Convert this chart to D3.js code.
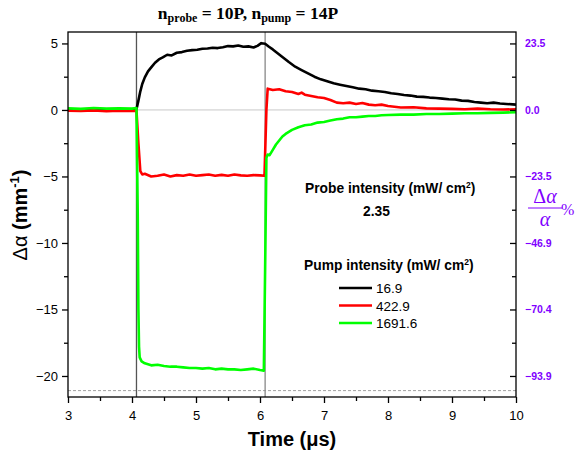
<!DOCTYPE html>
<html><head><meta charset="utf-8">
<script src="https://cdn.jsdelivr.net/npm/d3@7"></script>
<style>
body{margin:0;background:#fff;}
svg{display:block;font-family:"Liberation Sans",Arial,sans-serif;}
</style></head>
<body><svg id="chart" width="575" height="453"></svg>
<script>
// ---------- data ----------
const blackT = [3.0,3.2,3.4,3.6,3.8,4.0,4.07,4.1,4.13,4.16,4.2,4.25,4.3,4.36,4.42,4.48,4.55,4.62,4.7,4.78,4.86,4.94,5.02,5.1,5.18,5.26,5.34,5.42,5.5,5.58,5.66,5.74,5.82,5.9,5.96,6.02,6.08,6.14,6.2,6.28,6.36,6.45,6.55,6.65,6.75,6.85,6.95,7.05,7.15,7.25,7.35,7.45,7.55,7.65,7.75,7.85,7.95,8.05,8.15,8.25,8.35,8.45,8.55,8.65,8.75,8.85,8.95,9.05,9.15,9.25,9.35,9.45,9.55,9.65,9.75,9.85,9.95,10.0];
const blackV = [0.02,-0.02,0.03,0.0,0.02,0.0,0.05,0.7,1.4,1.95,2.45,2.9,3.2,3.55,3.8,3.95,4.15,4.1,4.3,4.35,4.45,4.5,4.52,4.6,4.62,4.68,4.65,4.72,4.8,4.78,4.85,4.75,4.78,4.7,4.82,5.02,4.98,4.75,4.55,4.25,3.95,3.6,3.25,3.0,2.75,2.5,2.3,2.15,2.0,1.9,1.8,1.7,1.6,1.55,1.45,1.4,1.35,1.25,1.2,1.12,1.08,1.0,0.98,0.93,0.9,0.85,0.8,0.78,0.7,0.68,0.6,0.55,0.5,0.55,0.48,0.45,0.42,0.4];

const redT = [3.0,3.2,3.4,3.6,3.8,4.0,4.07,4.1,4.13,4.16,4.2,4.3,4.4,4.5,4.6,4.7,4.8,4.9,5.0,5.1,5.2,5.3,5.4,5.5,5.6,5.7,5.8,5.9,6.0,6.07,6.1,6.12,6.2,6.3,6.4,6.5,6.6,6.65,6.7,6.8,6.9,7.0,7.1,7.2,7.3,7.4,7.5,7.6,7.7,7.8,7.9,8.0,8.2,8.4,8.6,8.8,9.0,9.2,9.4,9.6,9.8,10.0];
const redV = [-0.05,-0.08,-0.03,-0.1,-0.05,-0.08,-0.05,-2.5,-4.6,-4.85,-4.8,-5.0,-4.95,-4.85,-5.0,-4.9,-4.95,-4.85,-4.95,-4.9,-4.85,-4.95,-4.88,-4.95,-4.85,-4.92,-4.95,-4.9,-4.92,-4.95,0.0,1.6,1.5,1.55,1.4,1.35,1.2,1.3,1.15,1.05,0.95,0.9,0.75,0.55,0.5,0.55,0.45,0.52,0.4,0.35,0.4,0.3,0.18,0.2,0.12,0.1,0.08,0.05,0.1,0.05,0.03,0.05];

const greenT = [3.0,3.2,3.4,3.6,3.8,4.0,4.07,4.09,4.1,4.11,4.12,4.15,4.2,4.3,4.4,4.5,4.6,4.7,4.8,4.9,5.0,5.1,5.2,5.3,5.4,5.5,5.6,5.7,5.8,5.9,6.0,6.06,6.08,6.1,6.12,6.15,6.2,6.25,6.3,6.35,6.4,6.5,6.6,6.7,6.8,6.9,7.0,7.1,7.2,7.3,7.4,7.5,7.6,7.7,7.8,7.9,8.0,8.2,8.4,8.6,8.8,9.0,9.2,9.4,9.6,9.8,10.0];
const greenV = [0.12,0.08,0.15,0.1,0.12,0.1,0.15,-8,-15,-17.8,-18.6,-18.9,-19.05,-19.2,-19.15,-19.25,-19.3,-19.3,-19.35,-19.4,-19.4,-19.45,-19.4,-19.5,-19.45,-19.5,-19.5,-19.55,-19.5,-19.45,-19.55,-19.6,-12,-3.6,-3.35,-3.4,-3.0,-2.6,-2.3,-2.0,-1.8,-1.5,-1.3,-1.15,-1.1,-0.95,-0.9,-0.8,-0.7,-0.65,-0.55,-0.55,-0.5,-0.45,-0.45,-0.4,-0.38,-0.35,-0.35,-0.3,-0.3,-0.28,-0.25,-0.25,-0.22,-0.2,-0.17];

const seriesNames = ["16.9","422.9","1691.6"];
const seriesColors = ["#000000","#ff0000","#00ff00"];
const xTicks = [3,4,5,6,7,8,9,10];
const xMinor = [3.5,4.5,5.5,6.5,7.5,8.5,9.5];
const yTicks = [5,0,-5,-10,-15,-20];
const yMinor = [2.5,-2.5,-7.5,-12.5,-17.5];
const rightTickLabels = ["23.5","0.0","\u221223.5","\u221246.9","\u221270.4","\u221293.9"];
const pulseMarks = [4.07,6.08];
const floorLine = -21.1;
const probeIntensity = "2.35";

// ---------- layout ----------
const svg = d3.select("#chart");
const L = 68, R = 516, T = 32, B = 397;
const x = d3.scaleLinear().domain([3,10]).range([L,R]);
const y = d3.scaleLinear().domain([5.86,-21.58]).range([T,B]);
const purple = "#7f00ff";

svg.append("clipPath").attr("id","clip").append("rect")
  .attr("x",L).attr("y",T).attr("width",R-L).attr("height",B-T);

const plot = svg.append("g").attr("clip-path","url(#clip)");
plot.append("line").attr("x1",L).attr("x2",R).attr("y1",y(0)).attr("y2",y(0))
  .attr("stroke","#c8c8c8").attr("stroke-width",1);
plot.append("line").attr("x1",L).attr("x2",R).attr("y1",y(floorLine)).attr("y2",y(floorLine))
  .attr("stroke","#888").attr("stroke-width",0.8).attr("stroke-dasharray","3,2");
pulseMarks.forEach((p,i)=>{
  plot.append("line").attr("x1",x(p)).attr("x2",x(p)).attr("y1",T).attr("y2",B)
    .attr("stroke", i===0 ? "#555" : "#888").attr("stroke-width",1.3);
});

const series = [
  {t:blackT, v:blackV},
  {t:redT, v:redV},
  {t:greenT, v:greenV}
];
const line = d3.line().x(d=>x(d[0])).y(d=>y(d[1])).curve(d3.curveLinear);
series.forEach((s,i)=>{
  const pts = s.t.map((t,j)=>[t,s.v[j]]);
  plot.append("path").attr("d",line(pts)).attr("fill","none")
    .attr("stroke",seriesColors[i]).attr("stroke-width",2.6)
    .attr("stroke-linejoin","round");
});

svg.append("rect").attr("x",L).attr("y",T).attr("width",R-L).attr("height",B-T)
  .attr("fill","none").attr("stroke","#000").attr("stroke-width",1.3);

// x axis
const gx = svg.append("g").attr("transform",`translate(0,${B})`)
  .call(d3.axisBottom(x).tickValues(xTicks).tickFormat(d3.format("d")).tickSize(6).tickSizeOuter(0).tickPadding(8));
gx.select(".domain").remove();
gx.selectAll("text").attr("font-size","13px").attr("fill","#000").attr("font-family","Liberation Sans, Arial, sans-serif");
gx.selectAll(".tick line").attr("stroke-width",1.3);
svg.append("g").attr("transform",`translate(0,${B})`)
  .call(d3.axisBottom(x).tickValues(xMinor).tickFormat("").tickSize(4).tickSizeOuter(0))
  .call(g=>g.select(".domain").remove())
  .selectAll(".tick line").attr("stroke-width",1.3);

// left axis
const gy = svg.append("g").attr("transform",`translate(${L},0)`)
  .call(d3.axisLeft(y).tickValues(yTicks).tickSize(6).tickSizeOuter(0).tickPadding(4));
gy.select(".domain").remove();
gy.selectAll("text").attr("font-size","13px").attr("fill","#000").attr("font-family","Liberation Sans, Arial, sans-serif");
gy.selectAll(".tick line").attr("stroke-width",1.3);
svg.append("g").attr("transform",`translate(${L},0)`)
  .call(d3.axisLeft(y).tickValues(yMinor).tickFormat("").tickSize(4).tickSizeOuter(0))
  .call(g=>g.select(".domain").remove())
  .selectAll(".tick line").attr("stroke-width",1.3);

// right axis (inward ticks)
const gr = svg.append("g").attr("transform",`translate(${R},0)`)
  .call(d3.axisRight(y).tickValues(yTicks).tickFormat((d,i)=>rightTickLabels[i]).tickSize(-6).tickSizeOuter(0).tickPadding(9));
gr.select(".domain").remove();
gr.selectAll("text").attr("font-size","10.5px").attr("font-weight","bold").attr("fill",purple).attr("font-family","Liberation Sans, Arial, sans-serif");
gr.selectAll(".tick line").attr("stroke-width",1.3);
svg.append("g").attr("transform",`translate(${R},0)`)
  .call(d3.axisRight(y).tickValues(yMinor).tickFormat("").tickSize(-4).tickSizeOuter(0))
  .call(g=>g.select(".domain").remove())
  .selectAll(".tick line").attr("stroke-width",1.3);

// title
const title = svg.append("text").attr("x",248).attr("y",19).attr("text-anchor","middle")
  .attr("font-family","Liberation Serif, serif").attr("font-weight","bold").attr("font-size","17.5px").attr("fill","#000");
title.append("tspan").text("n");
title.append("tspan").attr("font-size","12px").attr("dy",3).text("probe");
title.append("tspan").attr("dy",-3).text(" = 10P, n");
title.append("tspan").attr("font-size","12px").attr("dy",3).text("pump");
title.append("tspan").attr("dy",-3).text(" = 14P");

// y label
const yl = svg.append("text").attr("transform","translate(27,215) rotate(-90)").attr("text-anchor","middle")
  .attr("font-size","20px").attr("fill","#000");
yl.append("tspan").text("\u0394\u03b1 ");
yl.append("tspan").attr("font-weight","bold").text("(mm");
yl.append("tspan").attr("font-weight","bold").attr("font-size","13px").attr("dy",-8).text("-1");
yl.append("tspan").attr("font-weight","bold").attr("dy",8).text(")");

// x label
svg.append("text").attr("x",292).attr("y",446).attr("text-anchor","middle")
  .attr("font-size","20px").attr("font-weight","bold").attr("fill","#000")
  .text("Time (\u03bcs)");

// right label: fraction
const rl = svg.append("g").attr("fill",purple).attr("font-family","Liberation Serif, serif");
rl.append("text").attr("x",545).attr("y",203).attr("text-anchor","middle").attr("font-size","20px")
  .html("\u0394<tspan font-style='italic'>\u03b1</tspan>");
rl.append("line").attr("x1",528).attr("x2",562).attr("y1",208).attr("y2",208).attr("stroke",purple).attr("stroke-width",1);
rl.append("text").attr("x",545).attr("y",226).attr("text-anchor","middle").attr("font-size","20px").attr("font-style","italic").text("\u03b1");
rl.append("text").attr("x",561).attr("y",215).attr("font-size","16px").text("%");

// legend
const lg = svg.append("g").attr("font-family","Liberation Sans, Arial, sans-serif").attr("fill","#000");
const p1 = lg.append("text").attr("x",305).attr("y",193).attr("font-size","13.8px").attr("font-weight","bold");
p1.append("tspan").text("Probe intensity (mW/ cm");
p1.append("tspan").attr("font-size","8.5px").attr("dy",-5).text("2");
p1.append("tspan").attr("dy",5).text(")");
lg.append("text").attr("x",363).attr("y",216).attr("font-size","13.8px").attr("font-weight","bold").text(probeIntensity);
const p2 = lg.append("text").attr("x",304).attr("y",270).attr("font-size","13.8px").attr("font-weight","bold");
p2.append("tspan").text("Pump intensity (mW/ cm");
p2.append("tspan").attr("font-size","8.5px").attr("dy",-5).text("2");
p2.append("tspan").attr("dy",5).text(")");
seriesNames.forEach((n,i)=>{
  const yy = 288 + i*17.5;
  lg.append("line").attr("x1",339).attr("x2",372).attr("y1",yy).attr("y2",yy)
    .attr("stroke",seriesColors[i]).attr("stroke-width",2.6);
  lg.append("text").attr("x",376).attr("y",yy+5).attr("font-size","13.5px").text(n);
});
</script></body></html>
